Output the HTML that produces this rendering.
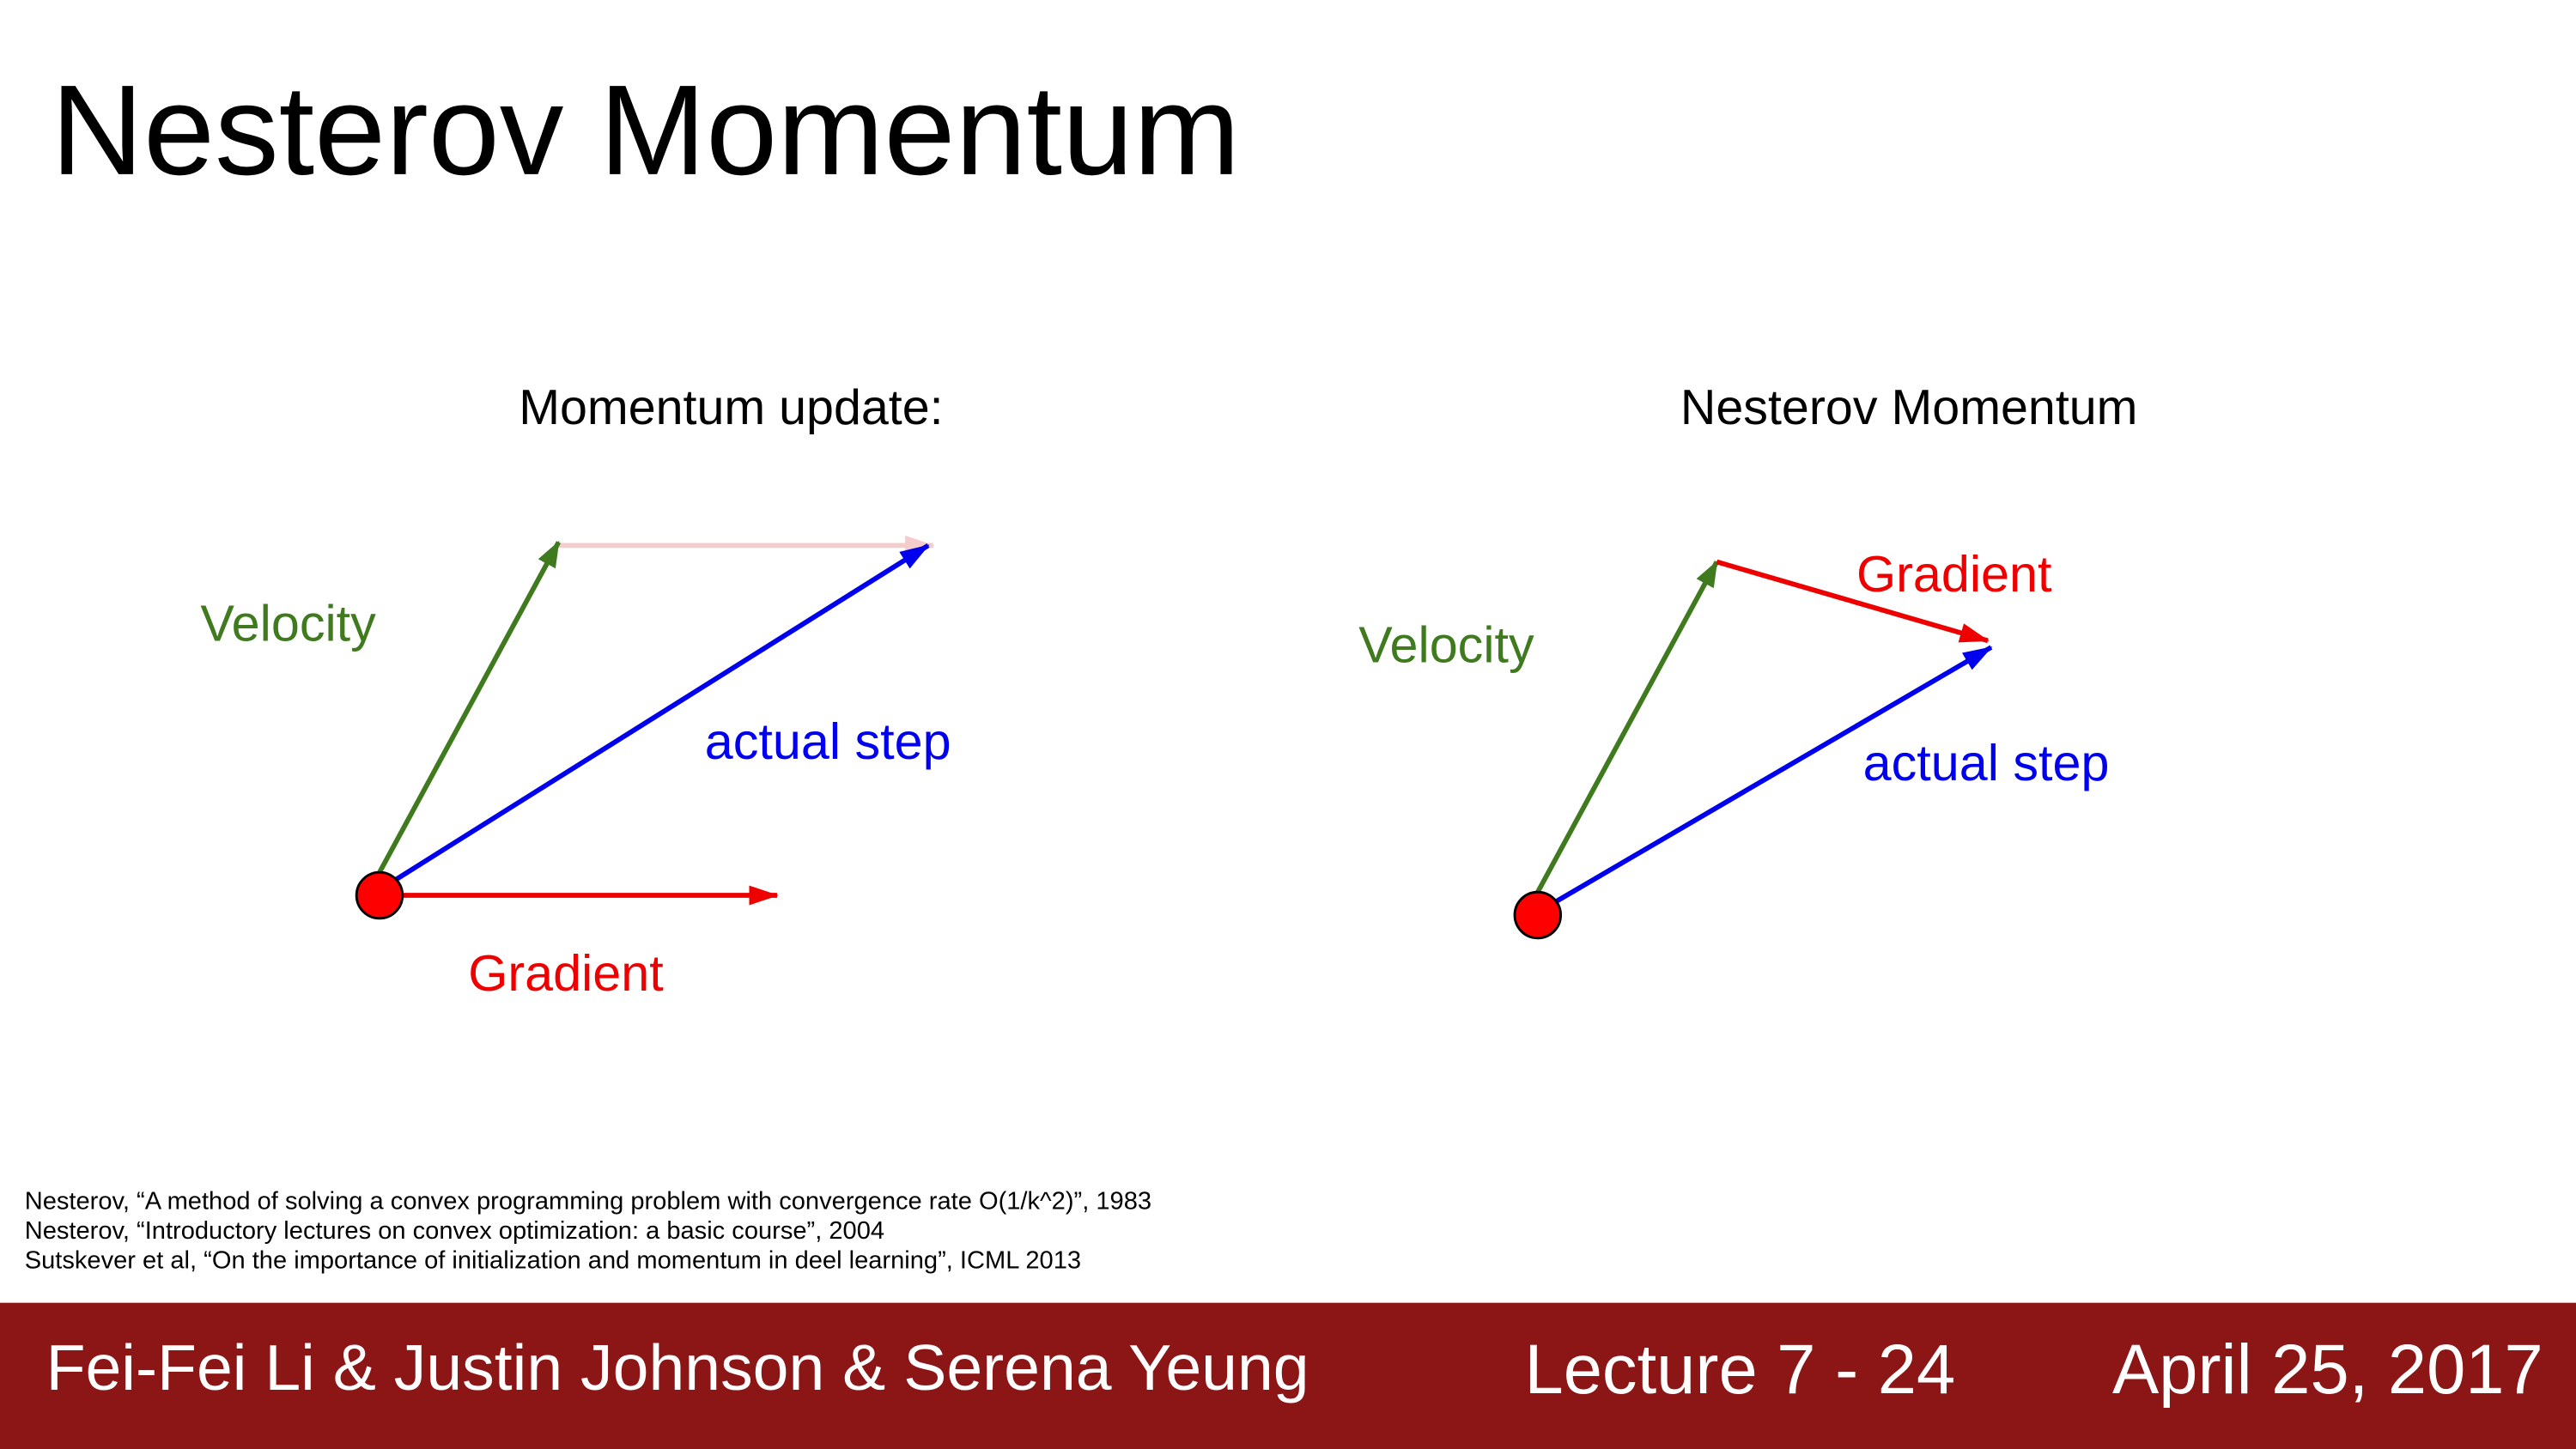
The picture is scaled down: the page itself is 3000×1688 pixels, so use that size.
<!DOCTYPE html>
<html><head><meta charset="utf-8"><style>
html,body{margin:0;padding:0;background:#fff;}
svg{display:block;font-family:"Liberation Sans",Arial,sans-serif;}
</style></head><body>
<svg width="3000" height="1688" viewBox="0 0 1568 882" preserveAspectRatio="none">
<defs>
<marker id="ag" markerWidth="16" markerHeight="12" refX="15" refY="6" orient="auto" markerUnits="userSpaceOnUse" viewBox="0 0 16 12"><path d="M0,0 L16,6 L0,12z" fill="#3f7a1e"/></marker>
<marker id="ab" markerWidth="18" markerHeight="12" refX="17" refY="6" orient="auto" markerUnits="userSpaceOnUse" viewBox="0 0 18 12"><path d="M0,0 L18,6 L0,12z" fill="#0000ee"/></marker>
<marker id="ar" markerWidth="18" markerHeight="12" refX="17" refY="6" orient="auto" markerUnits="userSpaceOnUse" viewBox="0 0 18 12"><path d="M0,0 L18,6 L0,12z" fill="#ee0000"/></marker>
<marker id="ap" markerWidth="18" markerHeight="12" refX="17" refY="6" orient="auto" markerUnits="userSpaceOnUse" viewBox="0 0 18 12"><path d="M0,0 L18,6 L0,12z" fill="#f4cccc"/></marker>
</defs>
<text x="31" y="106" font-size="78" fill="#000">Nesterov Momentum</text>

<g>
<text x="445" y="258" font-size="30" text-anchor="middle">Momentum update:</text>
<line x1="340" y1="332" x2="568" y2="332" stroke="#f4cccc" stroke-width="3" marker-end="url(#ap)"/>
<line x1="231" y1="531" x2="340" y2="330" stroke="#3f7a1e" stroke-width="3" marker-end="url(#ag)"/>
<line x1="240" y1="536" x2="565" y2="332" stroke="#0000ee" stroke-width="3" marker-end="url(#ab)"/>
<line x1="245" y1="545" x2="473" y2="545" stroke="#ee0000" stroke-width="3" marker-end="url(#ar)"/>
<circle cx="231" cy="545" r="14" fill="#ff0000" stroke="#000" stroke-width="1.5"/>
<text x="122" y="390" font-size="31" fill="#3f7a1e">Velocity</text>
<text x="429" y="462" font-size="31" fill="#0000ee">actual step</text>
<text x="285" y="603" font-size="31" fill="#ee0000">Gradient</text>
</g>

<g>
<text x="1162" y="258" font-size="30" text-anchor="middle">Nesterov Momentum</text>
<line x1="936" y1="543" x2="1045" y2="342" stroke="#3f7a1e" stroke-width="3" marker-end="url(#ag)"/>
<line x1="1045" y1="342" x2="1210" y2="390" stroke="#ee0000" stroke-width="3" marker-end="url(#ar)"/>
<line x1="945" y1="550" x2="1212" y2="394" stroke="#0000ee" stroke-width="3" marker-end="url(#ab)"/>
<circle cx="936" cy="557" r="14" fill="#ff0000" stroke="#000" stroke-width="1.5"/>
<text x="827" y="403" font-size="31" fill="#3f7a1e">Velocity</text>
<text x="1130" y="360" font-size="31" fill="#ee0000">Gradient</text>
<text x="1134" y="475" font-size="31" fill="#0000ee">actual step</text>
</g>

<g font-size="15.2" fill="#000">
<text x="15" y="736">Nesterov, “A method of solving a convex programming problem with convergence rate O(1/k^2)”, 1983</text>
<text x="15" y="754">Nesterov, “Introductory lectures on convex optimization: a basic course”, 2004</text>
<text x="15" y="772">Sutskever et al, “On the importance of initialization and momentum in deel learning”, ICML 2013</text>
</g>

<g>
<rect x="0" y="793" width="1568" height="89" fill="#8c1515"/>
<text x="28" y="846" font-size="39.3" fill="#fff">Fei-Fei Li &amp; Justin Johnson &amp; Serena Yeung</text>
<text x="928" y="848" font-size="42.5" fill="#fff">Lecture 7 - 24</text>
<text x="1548" y="848" font-size="42.5" fill="#fff" text-anchor="end">April 25, 2017</text>
</g>
</svg>
</body></html>
